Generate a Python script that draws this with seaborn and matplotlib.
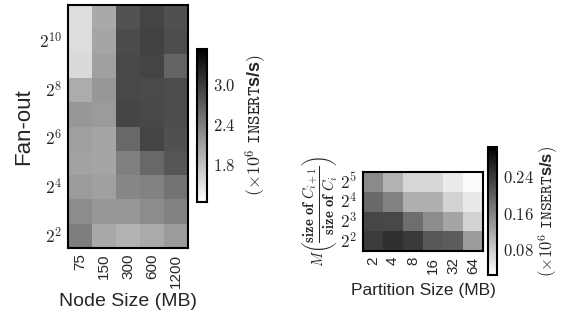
import numpy as np
import pandas as pd
import matplotlib
matplotlib.use("Agg")
import matplotlib.pyplot as plt
import seaborn as sns

# left panel: node size vs fan-out, throughput in 10^6 inserts/s
node_sizes = ["75", "150", "300", "600", "1200"]
fanout_exp = [11, 10, 9, 8, 7, 6, 5, 4, 3, 2]   # top row to bottom row
node_tput = [
    [1.56, 2.02, 2.79, 2.91, 2.81],
    [1.56, 2.05, 2.85, 2.93, 2.83],
    [1.58, 2.10, 2.88, 2.91, 2.63],
    [1.99, 2.18, 2.88, 2.86, 2.84],
    [2.18, 2.14, 2.90, 2.88, 2.84],
    [2.11, 2.05, 2.59, 2.91, 2.81],
    [2.08, 2.05, 2.38, 2.59, 2.76],
    [2.14, 2.10, 2.32, 2.36, 2.50],
    [2.27, 2.17, 2.17, 2.27, 2.36],
    [2.41, 2.02, 1.94, 2.01, 2.14],
]
node_cbar_ticks = [1.8, 2.4, 3.0]

# right panel: partition size vs size ratio M
partition_sizes = ["2", "4", "8", "16", "32", "64"]
ratio_exp = [5, 4, 3, 2]
part_tput = [
    [0.153, 0.110, 0.069, 0.069, 0.047, 0.030],
    [0.190, 0.162, 0.113, 0.113, 0.074, 0.050],
    [0.228, 0.226, 0.184, 0.151, 0.124, 0.074],
    [0.239, 0.252, 0.241, 0.208, 0.204, 0.135],
]
part_cbar_ticks = [0.08, 0.16, 0.24]

sns.set_style("white")
plt.rcParams['font.family'] = ['Liberation Sans', 'DejaVu Sans']
plt.rcParams['mathtext.fontset'] = 'cm'

df_node = pd.DataFrame(node_tput, index=fanout_exp, columns=node_sizes)
df_part = pd.DataFrame(part_tput, index=ratio_exp, columns=partition_sizes)

fig = plt.figure(figsize=(5.61, 3.26), dpi=100)
ax1 = fig.add_axes([0.1212, 0.2393, 0.2139, 0.745])
cax1 = fig.add_axes([0.3512, 0.3804, 0.0178, 0.469])
ax2 = fig.add_axes([0.647, 0.230, 0.2139, 0.2423])
cax2 = fig.add_axes([0.870, 0.156, 0.016, 0.393])

node_ylabels = [r"$2^{%d}$" % e if e % 2 == 0 else "" for e in fanout_exp]
sns.heatmap(df_node, ax=ax1, cbar_ax=cax1, cmap="gray_r", vmin=1.25, vmax=3.52,
            xticklabels=node_sizes, yticklabels=node_ylabels)
sns.heatmap(df_part, ax=ax2, cbar_ax=cax2, cmap="gray_r", vmin=0.025, vmax=0.305,
            xticklabels=partition_sizes,
            yticklabels=[r"$2^{%d}$" % e for e in ratio_exp])

for ax in [ax1, ax2]:
    for sp in ax.spines.values():
        sp.set_visible(True)
        sp.set_linewidth(1.5)
        sp.set_color("black")
    ax.tick_params(length=0, pad=4)
    plt.setp(ax.get_xticklabels(), rotation=90, fontsize=11)
    plt.setp(ax.get_yticklabels(), rotation=0, fontsize=12.5)

ax1.set_ylabel("Fan-out", fontsize=16)
ax1.set_xlabel("Node Size (MB)", fontsize=14)
ax2.set_xlabel("Partition Size (MB)", fontsize=12.5, labelpad=7)
ax2.set_ylabel(r"$M\left(\dfrac{\mathbf{size\ of}\ C_{i+1}}{\mathbf{size\ of}\ C_i}\right)$",
               fontsize=10.5, labelpad=1)

cb_label = r"$(\times10^{6}\ \mathtt{INSERT}$s/s$)$"
for ax, ticks, fmt, fs, pad in [(ax1, node_cbar_ticks, "%.1f", 13, 6),
                                (ax2, part_cbar_ticks, "%.2f", 12, 2)]:
    cb = ax.collections[0].colorbar
    cb.set_ticks(ticks)
    cb.set_ticklabels(["$" + fmt % t + "$" for t in ticks])
    cb.ax.tick_params(direction="in", length=7.5, width=1.3, color="black",
                      labelsize=12, pad=4)
    cb.outline.set_visible(True)
    cb.outline.set_linewidth(1.5)
    cb.outline.set_edgecolor("black")
    cb.set_label(cb_label, fontsize=fs, fontweight="bold", labelpad=pad)

plt.savefig("out.png", dpi=100)
plt.close()
